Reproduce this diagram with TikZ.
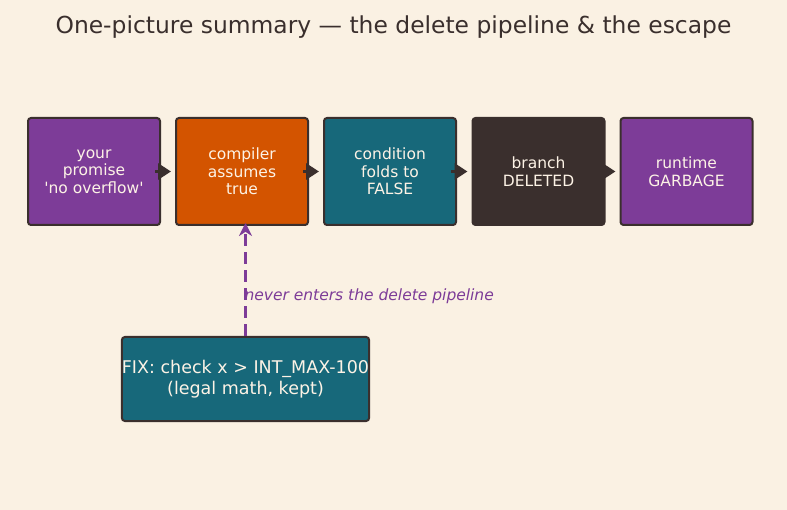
\documentclass[tikz,border=0pt]{standalone}
\usepackage{fontspec}
\setmainfont{DejaVu Sans}
\usepackage{xcolor}
\usetikzlibrary{arrows.meta,positioning}
\definecolor{bgcream}{HTML}{FAF1E3}
\definecolor{inkdark}{HTML}{3A2F2D}
\definecolor{plum}{HTML}{7D3C98}
\definecolor{rust}{HTML}{D35400}
\definecolor{petrol}{HTML}{17687A}
\definecolor{boxtext}{HTML}{FDF3E6}
\tikzset{
  line cap=round,
  line join=round,
  stage/.style={draw=inkdark, line width=2pt, rounded corners=3pt,
    minimum width=132pt, minimum height=107pt, align=center,
    text=boxtext, font=\fontsize{15.5}{17.5}\selectfont},
  fixbox/.style={stage, minimum width=247pt, minimum height=84pt,
    font=\fontsize{17.5}{21}\selectfont, inner sep=0pt},
  flow/.style={-{Triangle[length=13pt,width=16pt]}, line width=3pt, draw=inkdark},
  escape/.style={-{Stealth[length=13pt,width=13pt]}, line width=3.5pt, draw=plum,
    dash pattern=on 12pt off 6pt}
}
\begin{document}
\begin{tikzpicture}[x=1pt,y=-1pt]
  \fill[bgcream] (0,0) rectangle (787,510);
  \useasboundingbox (0,0) rectangle (787,510);

  \node[text=inkdark, font=\fontsize{23.4}{27}\selectfont] (title) at (393.5,27.5)
    {One-picture summary — the delete pipeline \& the escape};

  % pipeline
  \node[stage, fill=plum]   (promise) at (94,171.5)  {your\\promise\\\textquotesingle no overflow\textquotesingle};
  \node[stage, fill=rust]   (assume)  at (242,171.5) {compiler\\assumes\\true};
  \node[stage, fill=petrol] (fold)    at (390,171.5) {condition\\folds to\\FALSE};
  \node[stage, fill=inkdark] (delete) at (538.5,171.5) {branch\\DELETED};
  \node[stage, fill=plum]   (garbage) at (686.5,171.5) {runtime\\GARBAGE};

  \draw[flow] ([xshift=-6pt]promise.east) -- ([xshift=-4pt]assume.west);
  \draw[flow] ([xshift=-6pt]assume.east) -- ([xshift=-4pt]fold.west);
  \draw[flow] ([xshift=-6pt]fold.east) -- ([xshift=-4pt]delete.west);
  \draw[flow] ([xshift=-6pt]delete.east) -- ([xshift=-4pt]garbage.west);

  % the escape
  \node[fixbox, fill=petrol] (fix) at (245.5,379)
    {FIX: check x > INT\_MAX-100\\(legal math, kept)};
  \coordinate (entry) at (fix.north |- assume.south);
  \draw[escape] (fix.north) -- ([yshift=3pt]entry);
  \node[text=plum, anchor=west, font=\fontsize{15.5}{17}\selectfont\itshape]
    (never) at (241,296.5) {never enters the delete pipeline};
\end{tikzpicture}
\end{document}
